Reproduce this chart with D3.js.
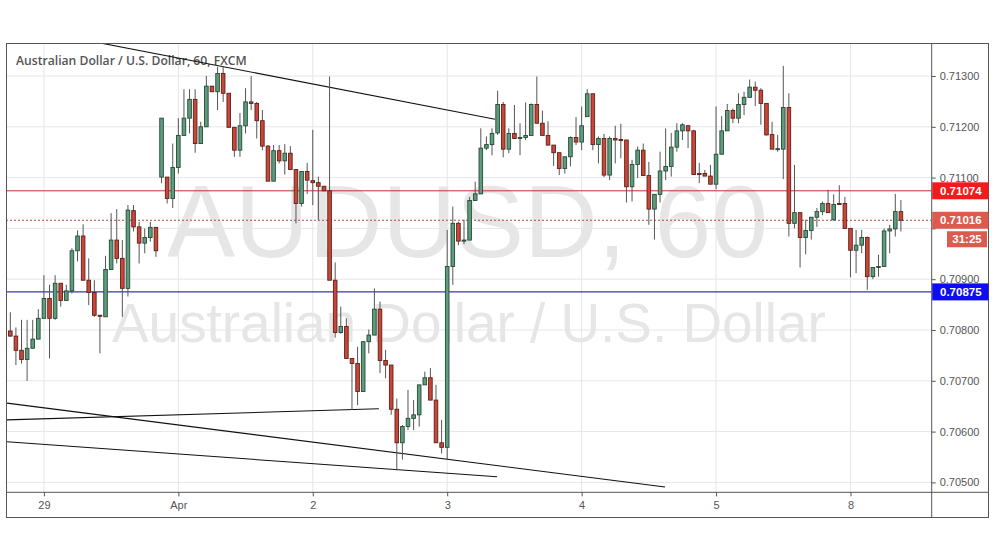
<!DOCTYPE html>
<html><head><meta charset="utf-8">
<script src="https://cdn.jsdelivr.net/npm/d3@7"></script>
<style>html,body{margin:0;padding:0;background:#fff;}svg{display:block;}</style>
</head><body>
<svg id="chart" width="995" height="556"></svg>
<script>
// ---------- DATA ----------
const opens = [0.70798,0.70788,0.70760,0.70742,0.70764,0.70782,0.70823,0.70862,0.70823,0.70892,
0.70858,0.70877,0.70956,0.70985,0.70898,0.70874,0.70829,0.70826,0.70919,0.70977,
0.70941,0.70882,0.71035,0.71003,0.70971,0.70982,0.71002,0.71101,0.71101,0.71059,
0.71120,0.71183,0.71217,0.71254,0.71167,0.71200,0.71280,0.71269,0.71305,0.71266,
0.71199,0.71154,0.71202,0.71249,0.71246,0.71212,0.71162,0.71093,0.71153,0.71133,
0.71148,0.71116,0.71049,0.71112,0.71094,0.71090,0.71083,0.71074,0.70898,0.70795,
0.70807,0.70744,0.70734,0.70679,0.70777,0.70790,0.70841,0.70740,0.70731,0.70644,
0.70578,0.70610,0.70626,0.70633,0.70692,0.70706,0.70662,0.70578,0.70569,0.70925,
0.71010,0.70975,0.70977,0.71055,0.71068,0.71158,0.71165,0.71188,0.71244,0.71156,
0.71187,0.71177,0.71179,0.71183,0.71244,0.71207,0.71183,0.71164,0.71149,0.71118,
0.71141,0.71179,0.71170,0.71220,0.71265,0.71165,0.71177,0.71105,0.71177,0.71175,
0.71174,0.71082,0.71126,0.71154,0.71104,0.71038,0.71067,0.71113,0.71122,0.71160,
0.71192,0.71202,0.71192,0.71108,0.71108,0.71103,0.71087,0.71146,0.71192,0.71232,
0.71217,0.71244,0.71258,0.71278,0.71272,0.71246,0.71185,0.71156,0.71156,0.71238,
0.71010,0.71031,0.70982,0.70996,0.71022,0.71033,0.71049,0.71017,0.71049,0.71049,
0.71000,0.70957,0.70967,0.70982,0.70905,0.70923,0.70925,0.70995,0.70999,0.71033];
const highs = [0.70835,0.70805,0.70820,0.70820,0.70820,0.70841,0.70908,0.70889,0.70908,0.70892,
0.70889,0.70961,0.70996,0.71008,0.70941,0.70898,0.70829,0.70946,0.71030,0.71038,
0.70977,0.71046,0.71046,0.71013,0.71000,0.71013,0.71003,0.71217,0.71101,0.71167,
0.71217,0.71274,0.71274,0.71274,0.71210,0.71300,0.71280,0.71318,0.71318,0.71266,
0.71199,0.71227,0.71276,0.71300,0.71249,0.71233,0.71164,0.71164,0.71164,0.71166,
0.71162,0.71116,0.71112,0.71129,0.71194,0.71102,0.71083,0.71299,0.70933,0.70846,
0.70823,0.70744,0.70767,0.70777,0.70801,0.70882,0.70856,0.70761,0.70731,0.70665,
0.70613,0.70682,0.70662,0.70692,0.70718,0.70725,0.70692,0.70623,0.70997,0.71043,
0.71013,0.71017,0.71062,0.71092,0.71197,0.71181,0.71197,0.71271,0.71249,0.71197,
0.71243,0.71207,0.71248,0.71246,0.71299,0.71232,0.71211,0.71164,0.71149,0.71141,
0.71181,0.71219,0.71240,0.71274,0.71265,0.71181,0.71186,0.71181,0.71202,0.71206,
0.71174,0.71135,0.71161,0.71167,0.71131,0.71067,0.71151,0.71197,0.71188,0.71207,
0.71207,0.71204,0.71194,0.71129,0.71115,0.71125,0.71240,0.71221,0.71245,0.71236,
0.71266,0.71269,0.71293,0.71289,0.71276,0.71246,0.71210,0.71184,0.71320,0.71266,
0.71125,0.71031,0.71017,0.71022,0.71040,0.71053,0.71076,0.71067,0.71085,0.71062,
0.71000,0.70997,0.70997,0.70984,0.70923,0.70948,0.71000,0.71007,0.71068,0.71056];
const lows = [0.70787,0.70731,0.70734,0.70700,0.70764,0.70782,0.70823,0.70744,0.70820,0.70846,
0.70858,0.70872,0.70935,0.70898,0.70849,0.70826,0.70754,0.70826,0.70919,0.70931,
0.70826,0.70866,0.70994,0.70931,0.70951,0.70974,0.70944,0.71089,0.71049,0.71040,
0.71108,0.71183,0.71187,0.71149,0.71167,0.71200,0.71269,0.71233,0.71249,0.71199,
0.71141,0.71141,0.71187,0.71233,0.71177,0.71154,0.71093,0.71093,0.71128,0.71106,
0.71116,0.71010,0.71043,0.71068,0.71046,0.71017,0.71074,0.70898,0.70785,0.70793,
0.70744,0.70643,0.70652,0.70679,0.70754,0.70790,0.70715,0.70705,0.70633,0.70524,
0.70545,0.70603,0.70603,0.70610,0.70692,0.70662,0.70578,0.70557,0.70545,0.70889,
0.70967,0.70969,0.70977,0.71055,0.71068,0.71154,0.71144,0.71184,0.71140,0.71148,
0.71177,0.71144,0.71174,0.71183,0.71207,0.71183,0.71164,0.71123,0.71105,0.71108,
0.71122,0.71164,0.71154,0.71220,0.71154,0.71128,0.71101,0.71095,0.71128,0.71138,
0.71051,0.71053,0.71099,0.71104,0.71007,0.70978,0.71051,0.71095,0.71102,0.71151,
0.71174,0.71158,0.71106,0.71089,0.71103,0.71087,0.71077,0.71146,0.71192,0.71207,
0.71207,0.71223,0.71258,0.71241,0.71204,0.71183,0.71156,0.71151,0.71097,0.70984,
0.71000,0.70923,0.70949,0.70978,0.71003,0.71026,0.71031,0.71015,0.71046,0.71000,
0.70904,0.70912,0.70951,0.70879,0.70900,0.70905,0.70925,0.70951,0.70984,0.70994];
const closes = [0.70788,0.70760,0.70742,0.70764,0.70782,0.70823,0.70862,0.70823,0.70892,0.70858,
0.70877,0.70956,0.70985,0.70898,0.70874,0.70829,0.70827,0.70919,0.70977,0.70941,
0.70882,0.71036,0.71003,0.70971,0.70982,0.71002,0.70956,0.71217,0.71059,0.71120,
0.71183,0.71217,0.71254,0.71167,0.71200,0.71280,0.71269,0.71305,0.71266,0.71199,
0.71154,0.71202,0.71249,0.71246,0.71212,0.71162,0.71093,0.71153,0.71133,0.71148,
0.71116,0.71049,0.71112,0.71095,0.71090,0.71083,0.71074,0.70898,0.70795,0.70807,
0.70744,0.70734,0.70679,0.70777,0.70790,0.70841,0.70740,0.70731,0.70644,0.70578,
0.70610,0.70626,0.70633,0.70692,0.70706,0.70662,0.70578,0.70569,0.70925,0.71010,
0.70975,0.70977,0.71055,0.71068,0.71158,0.71165,0.71187,0.71244,0.71156,0.71187,
0.71177,0.71179,0.71183,0.71244,0.71207,0.71183,0.71164,0.71149,0.71118,0.71141,
0.71179,0.71170,0.71202,0.71265,0.71165,0.71177,0.71105,0.71177,0.71174,0.71173,
0.71082,0.71126,0.71154,0.71104,0.71038,0.71067,0.71113,0.71122,0.71160,0.71192,
0.71204,0.71192,0.71106,0.71106,0.71103,0.71087,0.71146,0.71192,0.71232,0.71217,
0.71244,0.71258,0.71278,0.71272,0.71246,0.71184,0.71156,0.71157,0.71238,0.71010,
0.71031,0.70982,0.70996,0.71022,0.71033,0.71049,0.71031,0.71047,0.71047,0.71000,
0.70957,0.70967,0.70982,0.70905,0.70923,0.70925,0.70995,0.70999,0.71033,0.71016];

const dayTickIndex = [6, 30, 54, 78, 102, 126, 150];
const dayTickLabels = ["29", "Apr", "2", "3", "4", "5", "8"];
const priceTicks = [0.705, 0.706, 0.707, 0.708, 0.709, 0.710, 0.711, 0.712, 0.713];
const resistanceLevel = 0.71074;
const supportLevel = 0.70875;
const lastPrice = 0.71016;
const countdownText = "31:25";
const titleText = "Australian Dollar / U.S. Dollar, 60, FXCM";
const watermarkMain = "AUDUSD, 60";
const watermarkSub = "Australian Dollar / U.S. Dollar";
// trend lines: [candle index, price] end points
const trendUpper = [[16.04, 0.71365], [86.55, 0.71215]];
const trendLow1 = [[-0.59, 0.70656], [116.9, 0.70491]];
const trendLow2 = [[-0.59, 0.70580], [86.9, 0.70511]];
const trendLow3 = [[-0.59, 0.70623], [65.8, 0.70645]];

// ---------- LAYOUT ----------
const W = 995, H = 556;
const L = 6, R = 931.7, T = 43, B = 492.3, RR = 988.5, BB = 517.5;
const x = d3.scaleLinear().domain([-0.77, 164.5]).range([L, R]);
const y = d3.scaleLinear().domain([0.7050, 0.7130]).range([482.4, 76]);

const svg = d3.select("#chart");
svg.append("rect").attr("width", W).attr("height", H).attr("fill", "#fff");
svg.append("defs").append("clipPath").attr("id", "plotclip")
  .append("rect").attr("x", L).attr("y", T).attr("width", R - L).attr("height", B - T);

function fit(sel, width) {
  const w = sel.node().getComputedTextLength();
  const fs = parseFloat(sel.attr("font-size"));
  sel.attr("font-size", fs * width / w);
}

// watermark
const wm1 = svg.append("text").attr("x", 167).attr("y", 257)
  .attr("font-family", "'Liberation Sans', Arial, sans-serif").attr("font-size", 100)
  .attr("fill", "#e6e6e6").text(watermarkMain);
fit(wm1, 601);
const wm2 = svg.append("text").attr("x", 112).attr("y", 342)
  .attr("font-family", "'Liberation Sans', Arial, sans-serif").attr("font-size", 50)
  .attr("fill", "#e6e6e6").text(watermarkSub);
fit(wm2, 714);

// grid
const grid = svg.append("g");
grid.selectAll("line.h").data(priceTicks).join("line")
  .attr("x1", L).attr("x2", R).attr("y1", d => y(d)).attr("y2", d => y(d))
  .attr("stroke", "#e6e6e6").attr("stroke-width", 1);
grid.selectAll("line.v").data(dayTickIndex).join("line")
  .attr("x1", d => x(d)).attr("x2", d => x(d)).attr("y1", T).attr("y2", B)
  .attr("stroke", "#e6e6e6").attr("stroke-width", 1);

// title
const title = svg.append("text").attr("x", 16).attr("y", 65)
  .attr("font-family", "'Open Sans', sans-serif").attr("font-weight", 600)
  .attr("font-size", 13).attr("fill", "#555").text(titleText);
fit(title, 231);

const plot = svg.append("g").attr("clip-path", "url(#plotclip)");

// horizontal levels
plot.append("line").attr("x1", L).attr("x2", R).attr("y1", y(resistanceLevel)).attr("y2", y(resistanceLevel))
  .attr("stroke", "#c0302a").attr("stroke-width", 1);
plot.append("line").attr("x1", L).attr("x2", R).attr("y1", y(supportLevel)).attr("y2", y(supportLevel))
  .attr("stroke", "#0a0a7a").attr("stroke-width", 1);
plot.append("line").attr("x1", L).attr("x2", R).attr("y1", y(lastPrice)).attr("y2", y(lastPrice))
  .attr("stroke", "#b5483c").attr("stroke-width", 1).attr("stroke-dasharray", "2,2");

// trend lines
const lineGen = d3.line().x(d => x(d[0])).y(d => y(d[1]));
plot.selectAll("path.trend").data([trendUpper, trendLow1, trendLow2, trendLow3]).join("path")
  .attr("d", lineGen).attr("fill", "none").attr("stroke", "#111").attr("stroke-width", 1.1);

// candles
const candles = opens.map((o, i) => ({ i, o, h: highs[i], l: lows[i], c: closes[i] }));
const cg = plot.append("g");
cg.selectAll("line.wick").data(candles).join("line")
  .attr("x1", d => x(d.i)).attr("x2", d => x(d.i))
  .attr("y1", d => y(d.h)).attr("y2", d => y(d.l))
  .attr("stroke", "#555").attr("stroke-width", 1);
cg.selectAll("rect.body").data(candles).join("rect")
  .attr("x", d => x(d.i) - 1.8).attr("width", 3.6)
  .attr("y", d => y(Math.max(d.o, d.c)))
  .attr("height", d => Math.max(1, Math.abs(y(d.o) - y(d.c))))
  .attr("fill", d => d.c >= d.o ? "#5f9c7d" : "#c9473a")
  .attr("stroke", d => d.c >= d.o ? "#244a36" : "#5e1f16")
  .attr("stroke-width", 0.9);

// axes (the label hidden under the last-price box is left out)
const hiddenTick = d => Math.abs(y(d) - y(lastPrice)) < 12;
const yAxis = svg.append("g").attr("transform", `translate(${R},0)`)
  .call(d3.axisRight(y).tickValues(priceTicks)
    .tickFormat(d => hiddenTick(d) ? "" : d3.format(".5f")(d)).tickSize(4).tickPadding(4));
yAxis.select(".domain").remove();
yAxis.selectAll("line").attr("stroke", "#555");
yAxis.selectAll("text").attr("font-family", "'Liberation Sans', Arial, sans-serif").attr("font-size", 11).attr("fill", "#555");

const xAxis = svg.append("g").attr("transform", `translate(0,${B})`)
  .call(d3.axisBottom(x).tickValues(dayTickIndex).tickFormat((d, k) => dayTickLabels[k]).tickSize(4).tickPadding(5));
xAxis.select(".domain").remove();
xAxis.selectAll("line").attr("stroke", "#555");
xAxis.selectAll("text").attr("font-family", "'Liberation Sans', Arial, sans-serif").attr("font-size", 11).attr("fill", "#555");

// frame
svg.append("rect").attr("x", L + 0.5).attr("y", T + 0.5).attr("width", RR - L - 0.5).attr("height", BB - T - 0.5)
  .attr("fill", "none").attr("stroke", "#555").attr("stroke-width", 1);
svg.append("line").attr("x1", R).attr("x2", R).attr("y1", T).attr("y2", BB).attr("stroke", "#555");
svg.append("line").attr("x1", L).attr("x2", RR).attr("y1", B).attr("y2", B).attr("stroke", "#555");

// price labels
function priceBox(val, fill, x0, w) {
  const cy = y(val);
  svg.append("rect").attr("x", x0).attr("y", cy - 8.5).attr("width", w).attr("height", 17).attr("fill", fill);
  svg.append("text").attr("x", 940).attr("y", cy + 4)
    .attr("font-family", "'Liberation Sans', Arial, sans-serif").attr("font-weight", "bold")
    .attr("font-size", 11.5).attr("fill", "#fff").text(d3.format(".5f")(val));
}
priceBox(resistanceLevel, "#f21b1b", R + 0.5, RR - R - 0.5);
priceBox(lastPrice, "#dc5a4e", R + 0.5, RR - R - 0.5);
priceBox(supportLevel, "#0d0df0", R + 0.5, RR - R - 0.5);
const cdY = y(lastPrice) + 19;
svg.append("rect").attr("x", 947).attr("y", cdY - 8).attr("width", 40).attr("height", 16).attr("fill", "#dc5a4e");
svg.append("text").attr("x", 967).attr("y", cdY + 4).attr("text-anchor", "middle")
  .attr("font-family", "'Liberation Sans', Arial, sans-serif").attr("font-weight", "bold")
  .attr("font-size", 11.5).attr("fill", "#fff").text(countdownText);
</script>
</body></html>
